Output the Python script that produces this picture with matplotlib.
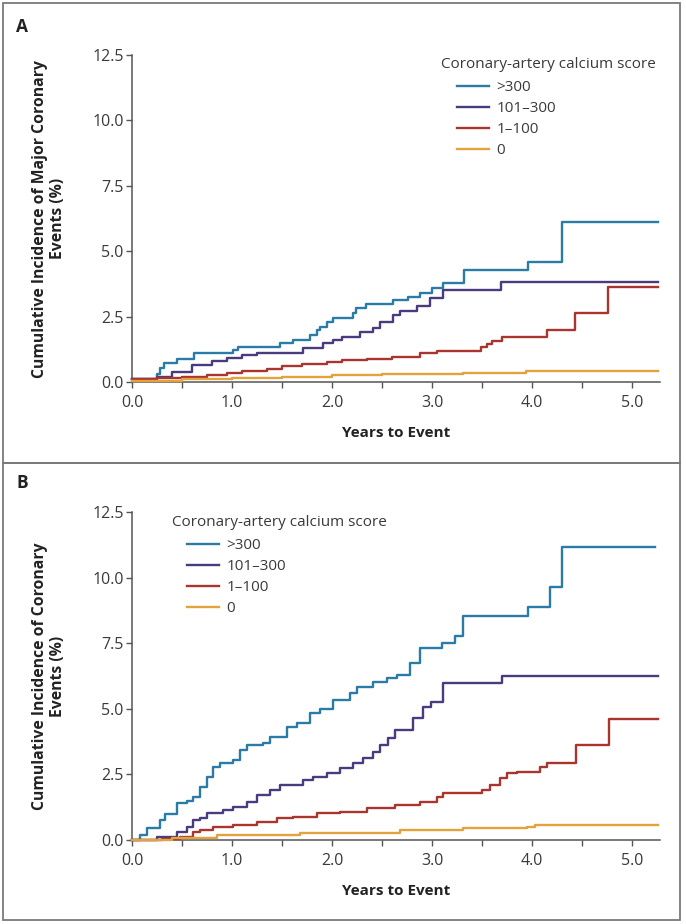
"""Cumulative incidence of coronary events by calcium score (two-panel step plot)."""

from __future__ import annotations

import matplotlib

matplotlib.use("Agg")
import matplotlib.pyplot as plt
from matplotlib.patches import Rectangle

plt.rcParams["font.family"] = ["Open Sans", "DejaVu Sans"]

# ---------------------------------------------------------------------------
# Data
# ---------------------------------------------------------------------------

CATEGORIES = [">300", "101\u2013300", "1\u2013100", "0"]
COLORS = ["#2a7ba6", "#4a3b7e", "#a8352e", "#e3a33c"]
LEGEND_TITLE = "Coronary-artery calcium score"
X_TICKS = [0.0, 1.0, 2.0, 3.0, 4.0, 5.0]
Y_TICKS = [0.0, 2.5, 5.0, 7.5, 10.0, 12.5]

# Panel A: major coronary events
a_gt300_t = [0, 0.25, 0.28, 0.32, 0.45, 0.62, 1.01, 1.06, 1.48, 1.61, 1.78, 1.85,
             1.88, 1.95, 2.01, 2.21, 2.24, 2.34, 2.61, 2.76, 2.88, 3.00, 3.11,
             3.32, 3.96, 4.30, 5.26]
a_gt300_y = [0.1, 0.3, 0.55, 0.72, 0.88, 1.1, 1.22, 1.35, 1.48, 1.6, 1.8, 1.98,
             2.11, 2.3, 2.44, 2.62, 2.82, 3.0, 3.13, 3.25, 3.4, 3.58, 3.78,
             4.28, 4.6, 6.1, 6.1]

a_101_t = [0, 0.25, 0.4, 0.6, 0.8, 0.95, 1.1, 1.25, 1.71, 1.91, 2.01, 2.1, 2.28,
           2.41, 2.48, 2.61, 2.68, 2.85, 2.98, 3.11, 3.69, 5.26]
a_101_y = [0.1, 0.2, 0.4, 0.65, 0.8, 0.9, 1.02, 1.1, 1.3, 1.48, 1.6, 1.73, 1.92,
           2.06, 2.3, 2.57, 2.7, 2.9, 3.2, 3.5, 3.83, 3.83]

a_1_t = [0, 0.25, 0.5, 0.75, 0.95, 1.1, 1.35, 1.5, 1.7, 1.95, 2.1, 2.35, 2.6,
         2.88, 3.05, 3.49, 3.55, 3.6, 3.7, 4.15, 4.43, 4.76, 5.26]
a_1_y = [0.1, 0.15, 0.2, 0.27, 0.35, 0.42, 0.5, 0.6, 0.7, 0.78, 0.84, 0.88, 0.97,
         1.1, 1.2, 1.35, 1.45, 1.55, 1.73, 1.98, 2.62, 3.62, 3.62]

a_0_t = [0, 0.5, 1.0, 1.5, 2.0, 2.5, 3.31, 3.94, 5.26]
a_0_y = [0.05, 0.1, 0.15, 0.2, 0.25, 0.3, 0.36, 0.42, 0.42]

# Panel B: coronary events
b_gt300_t = [0, 0.08, 0.15, 0.28, 0.33, 0.45, 0.55, 0.61, 0.68, 0.75, 0.81, 0.88,
             1.01, 1.08, 1.15, 1.31, 1.38, 1.55, 1.65, 1.78, 1.88, 2.01, 2.18,
             2.25, 2.41, 2.55, 2.65, 2.78, 2.88, 3.10, 3.23, 3.31, 3.96, 4.18,
             4.30, 5.23]
b_gt300_y = [0.0, 0.2, 0.45, 0.76, 1.0, 1.4, 1.5, 1.65, 2.03, 2.4, 2.79, 2.92,
             3.05, 3.43, 3.62, 3.68, 3.94, 4.32, 4.45, 4.83, 5.0, 5.34, 5.6,
             5.84, 6.03, 6.17, 6.29, 6.74, 7.3, 7.52, 7.77, 8.55, 8.88, 9.64,
             11.18, 11.18]

b_101_t = [0, 0.1, 0.25, 0.45, 0.55, 0.61, 0.68, 0.75, 0.91, 1.01, 1.15, 1.25,
           1.38, 1.48, 1.71, 1.81, 1.95, 2.08, 2.21, 2.31, 2.41, 2.48, 2.56,
           2.63, 2.81, 2.91, 2.99, 3.11, 3.70, 5.26]
b_101_y = [0.0, 0.0, 0.13, 0.32, 0.5, 0.76, 0.85, 1.02, 1.14, 1.27, 1.46, 1.71,
           1.9, 2.1, 2.29, 2.41, 2.54, 2.73, 2.92, 3.11, 3.37, 3.62, 3.89, 4.19,
           4.64, 5.08, 5.27, 5.97, 6.26, 6.26]

b_1_t = [0, 0.3, 0.48, 0.61, 0.68, 0.81, 1.01, 1.25, 1.45, 1.61, 1.85, 2.08,
         2.35, 2.63, 2.88, 3.05, 3.11, 3.50, 3.58, 3.68, 3.75, 3.85, 4.08, 4.15,
         4.44, 4.77, 5.26]
b_1_y = [0.0, 0.05, 0.13, 0.32, 0.38, 0.51, 0.57, 0.7, 0.83, 0.89, 1.02, 1.08,
         1.21, 1.33, 1.46, 1.65, 1.78, 1.9, 2.1, 2.35, 2.54, 2.6, 2.79, 2.95,
         3.62, 4.6, 4.6]

b_0_t = [0, 0.4, 0.85, 1.68, 2.68, 3.31, 3.95, 4.03, 5.26]
b_0_y = [0.0, 0.06, 0.19, 0.25, 0.38, 0.44, 0.51, 0.57, 0.57]

PANEL_A = [(a_gt300_t, a_gt300_y), (a_101_t, a_101_y), (a_1_t, a_1_y), (a_0_t, a_0_y)]
PANEL_B = [(b_gt300_t, b_gt300_y), (b_101_t, b_101_y), (b_1_t, b_1_y), (b_0_t, b_0_y)]

YLABEL_A = "Cumulative Incidence of Major Coronary\nEvents (%)"
YLABEL_B = "Cumulative Incidence of Coronary\nEvents (%)"

W, H = 686, 924
AXIS_COLOR = "#555555"
TEXT_COLOR = "#3a3a3a"


def _fx(px: float) -> float:
    return px / W


def _fy(py: float) -> float:
    return 1.0 - py / H


def _panel(fig, box, curves, ylabel, letter, letter_y, legend_xy, title_xy):
    """One step-curve panel with its own frame and legend."""
    left, top, right, bottom = box
    ax = fig.add_axes([_fx(left), _fy(bottom), _fx(right - left), (bottom - top) / H])

    lines = []
    for (t, y), color, label in zip(curves, COLORS, CATEGORIES):
        (ln,) = ax.step(t, y, where="post", color=color, linewidth=1.7,
                        label=label, clip_on=False, zorder=3)
        lines.append(ln)

    ax.set_xlim(0, 5.28)
    ax.set_ylim(0, 12.5)
    ax.set_xticks(X_TICKS)
    ax.set_xticklabels([f"{v:.1f}" for v in X_TICKS])
    ax.set_xticks([0.5, 1.5, 2.5, 3.5, 4.5], minor=True)
    ax.set_yticks(Y_TICKS)
    ax.set_yticklabels([f"{v:.1f}" for v in Y_TICKS])

    for side in ("top", "right"):
        ax.spines[side].set_visible(False)
    for side in ("left", "bottom"):
        ax.spines[side].set_color(AXIS_COLOR)
        ax.spines[side].set_linewidth(1.1)
    ax.tick_params(which="major", direction="out", length=4, width=1.0,
                   color=AXIS_COLOR, labelcolor=TEXT_COLOR, labelsize=11.5)
    ax.tick_params(axis="x", which="major", length=4, pad=5.5)
    ax.tick_params(axis="y", which="major", pad=2)
    ax.tick_params(which="minor", direction="out", length=4, width=1.0,
                   color=AXIS_COLOR)

    ax.set_xlabel("Years to Event", fontweight="bold", fontsize=11, color="#222222")
    ax.xaxis.set_label_coords(0.5, -44 / (bottom - top))
    ax.set_ylabel(ylabel, fontweight="bold", fontsize=11.3, color="#222222",
                  linespacing=1.15)
    ax.yaxis.set_label_coords(-(left - 66) / (right - left), 0.5)

    fig.text(_fx(16), _fy(letter_y), letter, fontweight="bold", fontsize=12.5,
             va="center", ha="left", color="#222222")

    fig.text(_fx(title_xy[0]), _fy(title_xy[1]), LEGEND_TITLE, fontsize=11,
             va="center", ha="left", color=TEXT_COLOR)
    ax.legend(handles=lines, loc="upper left", frameon=False, fontsize=11,
              bbox_to_anchor=(_fx(legend_xy[0]), _fy(legend_xy[1])),
              bbox_transform=fig.transFigure, handlelength=2.1,
              handletextpad=0.5, labelspacing=0.4, borderaxespad=0,
              borderpad=0, labelcolor=TEXT_COLOR)
    return ax


def main() -> None:
    fig = plt.figure(figsize=(W / 100, H / 100), dpi=100)

    for y0, y1 in ((3, 463), (463, 920)):
        fig.patches.append(Rectangle((_fx(3), _fy(y1)), _fx(677), (y1 - y0) / H,
                                     transform=fig.transFigure, fill=False,
                                     edgecolor="#7a7a7a", linewidth=1.3))

    _panel(fig, (132, 55, 660, 382), PANEL_A, YLABEL_A, "A", 27,
           legend_xy=(457, 80), title_xy=(441, 64))
    _panel(fig, (132, 512, 660, 840), PANEL_B, YLABEL_B, "B", 483,
           legend_xy=(187, 538), title_xy=(172, 523))

    fig.savefig("out.png", dpi=100)
    plt.close(fig)


if __name__ == "__main__":
    main()
